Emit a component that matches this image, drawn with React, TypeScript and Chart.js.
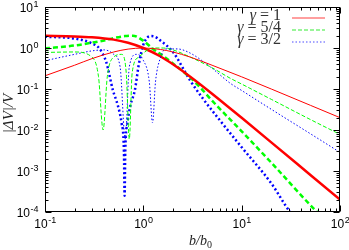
import React, { useEffect, useRef } from "react";
import { Chart, registerables } from "chart.js";
Chart.register(...registerables);

const xTickValues = [0.1, 1, 10, 100];
const xTickExps = ["-1", "0", "1", "2"];
const yTickValues = [1e-4, 1e-3, 1e-2, 1e-1, 1, 10];
const yTickExps = ["-4", "-3", "-2", "-1", "0", "1"];
const legendLabels = ["1", "5/4", "3/2"];

// gamma = 1
const g1ThickX = [0.1, 0.2, 0.3, 0.5, 0.7, 1, 1.5, 2, 3, 5, 10, 20, 50, 100];
const g1ThickY = [1.98, 1.92, 1.83, 1.6, 1.34, 1.0, 0.62, 0.4, 0.2, 0.077, 0.0198, 0.005, 0.0008, 0.0002];
const g1ThinX = [0.1, 0.2, 0.3, 0.5, 0.7, 1, 1.5, 2, 3, 5, 10, 20, 50, 100];
const g1ThinY = [0.21, 0.38, 0.55, 0.8, 0.94, 1.0, 0.92, 0.8, 0.6, 0.38, 0.198, 0.1, 0.04, 0.02];

// gamma = 5/4
const g54ThickX = [0.1, 0.2, 0.3, 0.41, 0.5, 0.65, 0.78, 1.0, 1.25, 1.48, 2, 3, 3.78, 5, 10, 20, 58.5, 80];
const g54ThickY = [0.98, 1.15, 1.35, 1.55, 1.75, 1.95, 2.0, 1.5, 0.95, 0.72, 0.42, 0.19, 0.11, 0.052, 0.0093, 0.0016, 0.0001, 0.00005];
const g54ThinX = [0.1, 0.2, 0.3, 0.35, 0.39, 0.43, 0.5, 0.6, 0.67, 0.72, 0.77, 0.9, 1.25, 1.6, 2, 3, 5, 7.62, 10, 20, 50, 100];
const g54ThinY = [0.78, 0.8, 0.6, 0.2, 0.01, 0.2, 0.6, 0.7, 0.25, 0.006, 0.25, 0.6, 1.0, 1.0, 0.9, 0.6, 0.33, 0.184, 0.132, 0.056, 0.018, 0.0078];

// gamma = 3/2
const g32ThickX = [0.1, 0.2, 0.3, 0.36, 0.42, 0.49, 0.55, 0.6, 0.635, 0.645, 0.655, 0.69, 0.74, 0.82, 0.9, 1.0, 1.1, 1.17, 1.3, 1.48, 2, 2.98, 4, 6.03, 10, 20, 31, 40];
const g32ThickY = [1.88, 1.7, 1.3, 0.95, 0.45, 0.094, 0.04, 0.015, 0.003, 0.00025, 0.003, 0.015, 0.04, 0.094, 0.4, 1.2, 1.8, 1.95, 1.9, 1.54, 0.8, 0.164, 0.06, 0.017, 0.0038, 0.0005, 0.0001, 0.00005];
const g32ThinX = [0.1, 0.2, 0.3, 0.4, 0.5, 0.58, 0.655, 0.72, 0.85, 1.0, 1.15, 1.24, 1.33, 1.5, 1.7, 2.2, 3, 5, 7.62, 10, 20, 50, 100];
const g32ThinY = [0.49, 0.7, 0.85, 0.9, 0.7, 0.35, 0.006, 0.35, 0.7, 0.5, 0.15, 0.015, 0.15, 0.6, 0.95, 0.95, 0.75, 0.32, 0.139, 0.092, 0.032, 0.0081, 0.00285];

const RED = "#ff0000";
const GREEN = "#00ff00";
const BLUE = "#0000ff";

function pts(xs: number[], ys: number[]) {
  return xs.map((x, i) => ({ x, y: ys[i] }));
}

function drawPow(ctx: CanvasRenderingContext2D, exp: string, x: number, y: number, align: "center" | "right") {
  const baseFont = "12px 'Liberation Sans', Arial, sans-serif";
  const supFont = "9px 'Liberation Sans', Arial, sans-serif";
  ctx.font = baseFont;
  const wb = ctx.measureText("10").width;
  ctx.font = supFont;
  const we = ctx.measureText(exp).width;
  const total = wb + we;
  const left = align === "center" ? x - total / 2 : x - total;
  ctx.textAlign = "left";
  ctx.textBaseline = "alphabetic";
  ctx.font = baseFont;
  ctx.fillText("10", left, y);
  ctx.font = supFont;
  ctx.fillText(exp, left + wb + 0.5, y - 5.5);
}

const gnuplotPlugin = {
  id: "gnuplotDecor",
  afterDraw(chart: any) {
    const { ctx, chartArea: a, scales } = chart;
    const xs = scales.x;
    const ys = scales.y;
    ctx.save();
    ctx.strokeStyle = "#000";
    ctx.lineWidth = 1;
    const L = Math.round(a.left) + 0.5;
    const R = Math.round(a.right) - 0.5;
    const T = Math.round(a.top) + 0.5;
    const B = Math.round(a.bottom) - 0.5;
    ctx.strokeRect(L, T, R - L, B - T);
    ctx.beginPath();
    for (let d = -1; d <= 2; d++) {
      for (let m = 1; m <= 9; m++) {
        const v = m * Math.pow(10, d);
        if (v < 0.1 - 1e-9 || v > 100 + 1e-9) continue;
        const px = Math.round(xs.getPixelForValue(v)) + 0.5;
        const len = m === 1 ? 6 : 3;
        ctx.moveTo(px, B);
        ctx.lineTo(px, B - len);
        ctx.moveTo(px, T);
        ctx.lineTo(px, T + len);
      }
    }
    for (let d = -4; d <= 1; d++) {
      for (let m = 1; m <= 9; m++) {
        const v = m * Math.pow(10, d);
        if (v < 1e-4 - 1e-12 || v > 10 + 1e-9) continue;
        const py = Math.round(ys.getPixelForValue(v)) + 0.5;
        const len = m === 1 ? 6 : 3;
        ctx.moveTo(L, py);
        ctx.lineTo(L + len, py);
        ctx.moveTo(R, py);
        ctx.lineTo(R - len, py);
      }
    }
    ctx.stroke();

    ctx.fillStyle = "#000";
    xTickValues.forEach((v, i) => {
      const px = xs.getPixelForValue(v);
      drawPow(ctx, xTickExps[i], px, a.bottom + 16, "center");
    });
    yTickValues.forEach((v, i) => {
      const py = ys.getPixelForValue(v);
      drawPow(ctx, yTickExps[i], a.left - 7, py + 5, "right");
    });

    // x title
    ctx.fillStyle = "#222";
    ctx.font = "italic 14px 'Liberation Serif', 'DejaVu Serif', serif";
    ctx.textAlign = "left";
    ctx.textBaseline = "alphabetic";
    const t1 = "b/b";
    const w1 = ctx.measureText(t1).width;
    ctx.font = "10px 'Liberation Serif', serif";
    const w2 = ctx.measureText("0").width;
    const cx = (a.left + a.right) / 2 + 8;
    const sx = cx - (w1 + w2) / 2;
    ctx.font = "italic 14px 'Liberation Serif', 'DejaVu Serif', serif";
    ctx.fillText(t1, sx, 245);
    ctx.font = "10px 'Liberation Serif', serif";
    ctx.fillText("0", sx + w1, 248);

    // y title
    ctx.save();
    ctx.translate(13, (a.top + a.bottom) / 2 + 4);
    ctx.rotate(-Math.PI / 2);
    ctx.font = "italic 15px 'Liberation Serif', 'DejaVu Serif', serif";
    ctx.textAlign = "center";
    ctx.fillText("|\u0394V|/V", 0, 0);
    ctx.restore();

    // legend
    const colors = ["rgba(255,0,0,0.75)", "rgba(0,230,0,0.8)", "rgba(0,0,255,0.7)"];
    const dashes = [[], [4, 2], [1.5, 2]];
    const rows = [18, 30, 42];
    legendLabels.forEach((lab, i) => {
      const y = rows[i];
      ctx.font = "16px 'Liberation Serif', 'DejaVu Serif', serif";
      const rest = " = " + lab;
      const wr = ctx.measureText(rest).width;
      ctx.font = "italic 16px 'Liberation Serif', 'DejaVu Serif', serif";
      const wg = ctx.measureText("\u03b3").width;
      const right = 281;
      ctx.fillStyle = "#333";
      ctx.textAlign = "left";
      ctx.fillText("\u03b3", right - wr - wg, y + 2);
      ctx.font = "16px 'Liberation Serif', 'DejaVu Serif', serif";
      ctx.fillText(rest, right - wr, y + 2);
      ctx.save();
      ctx.beginPath();
      ctx.strokeStyle = colors[i];
      ctx.lineWidth = 1.2;
      ctx.setLineDash(dashes[i]);
      ctx.moveTo(292, y);
      ctx.lineTo(325, y);
      ctx.stroke();
      ctx.restore();
    });
    ctx.restore();
  },
};

export default function App() {
  const ref = useRef<HTMLCanvasElement | null>(null);
  useEffect(() => {
    document.body.style.margin = "0";
    if (!ref.current) return;
    const common = { pointRadius: 0, fill: false, cubicInterpolationMode: "monotone" as const };
    const chart = new Chart(ref.current, {
      type: "line",
      data: {
        datasets: [
          { ...common, data: pts(g1ThinX, g1ThinY), borderColor: RED, borderWidth: 1 },
          { ...common, data: pts(g54ThinX, g54ThinY), borderColor: GREEN, borderWidth: 1, borderDash: [4, 2] },
          { ...common, data: pts(g32ThinX, g32ThinY), borderColor: BLUE, borderWidth: 1, borderDash: [1.5, 2] },
          { ...common, data: pts(g1ThickX, g1ThickY), borderColor: RED, borderWidth: 2.5 },
          { ...common, data: pts(g54ThickX, g54ThickY), borderColor: GREEN, borderWidth: 2.5, borderDash: [5, 3] },
          { ...common, data: pts(g32ThickX, g32ThickY), borderColor: BLUE, borderWidth: 2.5, borderDash: [2, 2.5] },
        ],
      },
      options: {
        animation: false,
        responsive: false,
        maintainAspectRatio: false,
        layout: { padding: { left: 45, right: 9, top: 7, bottom: 38 } },
        plugins: { legend: { display: false }, tooltip: { enabled: false } },
        scales: {
          x: { type: "logarithmic", min: 0.1, max: 100, display: false },
          y: { type: "logarithmic", min: 1e-4, max: 10, display: false },
        },
      },
      plugins: [gnuplotPlugin],
    });
    return () => chart.destroy();
  }, []);
  return <canvas ref={ref} width={349} height={250} style={{ display: "block" }} />;
}
